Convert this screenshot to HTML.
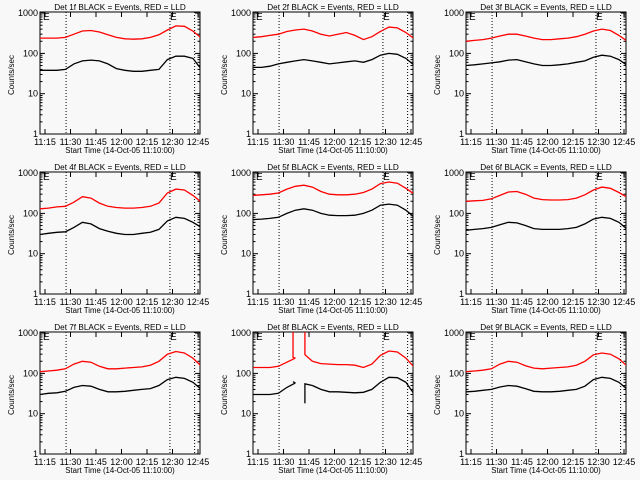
<!DOCTYPE html>
<html><head><meta charset="utf-8">
<style>
body{margin:0;background:#f8f8f8;}
svg{display:block;font-family:"Liberation Sans",sans-serif;}
</style></head>
<body>
<svg id="c" width="640" height="480" viewBox="0 0 640 480">
<rect width="640" height="480" fill="#f8f8f8"/>
</svg>
<script>
// times: minutes after 11:00
const times = [12,17,22,27,32,37,42,47,52,57,62,67,72,77,82,87,92,97,102,107];
const detNames = ["1f","2f","3f","4f","5f","6f","7f","8f","9f"];
const blackP1 = [38,38,38,40,55,65,68,65,55,42,38,36,36,38,40,70,85,85,75,40];
const redP1   = [240,240,240,250,300,360,370,340,290,250,230,225,230,250,290,380,480,470,360,240];
const blackP2 = [45,45,48,55,60,65,70,65,60,55,58,62,65,60,70,90,100,95,75,50];
const redP2   = [250,260,280,300,350,380,400,360,300,270,300,330,280,220,260,350,450,430,330,230];
const blackP3 = [50,52,55,58,62,68,70,62,55,50,50,52,55,60,65,80,90,85,70,50];
const redP3   = [200,210,220,240,270,300,300,270,240,220,220,230,240,260,300,360,400,370,280,200];
const blackP4 = [30,32,34,35,45,60,55,42,36,32,30,30,32,34,40,65,80,75,60,45];
const redP4   = [130,135,145,150,190,260,240,180,150,140,135,135,140,150,180,320,400,380,280,190];
const blackP5 = [70,72,75,80,100,120,130,120,100,90,88,88,90,100,120,160,170,160,120,80];
const redP5   = [280,290,300,320,400,470,500,450,350,300,290,290,300,330,400,550,600,560,420,300];
const blackP6 = [38,40,42,45,52,60,58,50,42,40,40,40,42,45,55,72,80,75,60,40];
const redP6   = [200,205,210,230,280,340,350,300,240,220,215,215,220,240,290,380,450,420,330,250];
const blackP7 = [30,32,33,36,45,50,48,40,35,35,36,38,40,42,50,70,80,75,60,40];
const redP7   = [110,115,120,130,170,200,190,150,130,130,135,140,145,160,200,300,350,320,240,150];
const blackP8 = [30,30,30,32,45,58,null,50,40,35,35,34,33,34,40,60,80,78,60,30];
const redP8   = [140,140,140,150,190,240,null,200,175,170,165,165,160,140,170,280,360,340,240,140];
const blackP9 = [35,36,38,40,46,50,48,42,36,35,35,36,38,40,48,70,80,75,60,40];
const redP9   = [110,115,120,130,170,200,190,155,135,130,135,140,145,160,200,290,320,300,230,150];
const blacks = [blackP1,blackP2,blackP3,blackP4,blackP5,blackP6,blackP7,blackP8,blackP9];
const reds = [redP1,redP2,redP3,redP4,redP5,redP6,redP7,redP8,redP9];
const yTicks = [1,10,100,1000];
const yTickLabels = ["1","10","100","1000"];
const xTicks = [15,30,45,60,75,90,105];
const xTickLabels = ["11:15","11:30","11:45","12:00","12:15","12:30","12:45"];
const dotTimes = [27.4,88.5,103];

const NS="http://www.w3.org/2000/svg";
const svg=document.getElementById('c');
function mk(tag,attrs,parent){const e=document.createElementNS(NS,tag);for(const k in attrs)e.setAttribute(k,attrs[k]);(parent||svg).appendChild(e);return e;}

for(let p=0;p<9;p++){
  const ox=(p%3)*213, oy=Math.floor(p/3)*160;
  const g=mk('g',{transform:`translate(${ox},${oy})`});
  
  
  const L=40,R=200,T=12,B=134;
  const xs=t=>45+(t-15)*1.7;
  const ys=v=>B-Math.log10(v)*40.3;
  const cid='clip'+p;
  const cp=mk('clipPath',{id:cid},g);mk('rect',{x:L,y:T,width:R-L,height:B-T},cp);
  const box=mk('rect',{x:L,y:T,width:R-L,height:B-T,fill:'none',stroke:'#000','stroke-width':1},g);
  
  
  yTicks.forEach((v,i)=>{
    const y=ys(v);
    mk('line',{x1:L,x2:L+5,y1:y,y2:y,stroke:'#000'},g);
    mk('line',{x1:R-5,x2:R,y1:y,y2:y,stroke:'#000'},g);
    for(let m=2;m<10&&v<1000;m++){const yy=ys(v*m);mk('line',{x1:L,x2:L+2.5,y1:yy,y2:yy,stroke:'#000'},g);mk('line',{x1:R-2.5,x2:R,y1:yy,y2:yy,stroke:'#000'},g);}
    const t=mk('text',{x:L-2,y:y+3,'font-size':9,'text-anchor':'end'},g);t.textContent=yTickLabels[i];
    
    
  });
  xTicks.forEach((v,i)=>{
    const x=xs(v);
    mk('line',{x1:x,x2:x,y1:B,y2:B-5,stroke:'#000'},g);
    mk('line',{x1:x,x2:x,y1:T,y2:T+5,stroke:'#000'},g);
    const t=mk('text',{x:x,y:B+11,'font-size':9,'text-anchor':'middle'},g);t.textContent=xTickLabels[i];
    
    
  });
  dotTimes.forEach(v=>{const x=xs(v);mk('line',{x1:x,x2:x,y1:T,y2:B,stroke:'#000','stroke-dasharray':'1,2'},g);});
  [43,170].forEach(x=>{const e=mk('text',{x:x,y:T+8,'font-size':10},g);e.textContent='E';});
  const ti=mk('text',{x:120,y:10,'font-size':8.2,'text-anchor':'middle'},g);
  ti.textContent=`Det ${detNames[p]} BLACK = Events, RED = LLD`;
  
  
  const yl=mk('text',{x:14,y:75,'font-size':8,'text-anchor':'middle',transform:'rotate(-90 14 75)'},g);
  yl.textContent='Counts/sec';
  
  
  const xl=mk('text',{x:120,y:153,'font-size':7.8,'text-anchor':'middle'},g);
  xl.textContent='Start Time (14-Oct-05 11:10:00)';
  
  
  [[reds[p],'#ff0000','red-lld-series'],[blacks[p],'#000','black-events-series']].forEach(([arr,col,nm])=>{
    let d='',pen=false;
    arr.forEach((v,i)=>{if(v==null){pen=false;return;}d+=(pen?'L':'M')+xs(times[i]).toFixed(1)+','+ys(v).toFixed(1);pen=true;});
    const path=mk('path',{d:d,fill:'none',stroke:col,'stroke-width':1.3,'clip-path':`url(#${cid})`},g);
    
    
  });
  if(p===7){
    const c=`url(#${cid})`;
    mk('path',{d:`M${xs(37)},${ys(240)}L${xs(35.6)},${ys(250)}L${xs(35.6)},${ys(1100)}`,fill:'none',stroke:'#ff0000','stroke-width':1.3,'clip-path':c},g);
    mk('path',{d:`M${xs(42.6)},${ys(1100)}L${xs(42.6)},${ys(290)}L${xs(47)},${ys(200)}`,fill:'none',stroke:'#ff0000','stroke-width':1.3,'clip-path':c},g);
    mk('path',{d:`M${xs(37)},${ys(58)}L${xs(35.6)},${ys(62)}`,fill:'none',stroke:'#000','stroke-width':1.3},g);
    mk('path',{d:`M${xs(42.6)},${ys(18)}L${xs(42.6)},${ys(55)}L${xs(47)},${ys(50)}`,fill:'none',stroke:'#000','stroke-width':1.3},g);
  }
}
</script>
</body></html>
